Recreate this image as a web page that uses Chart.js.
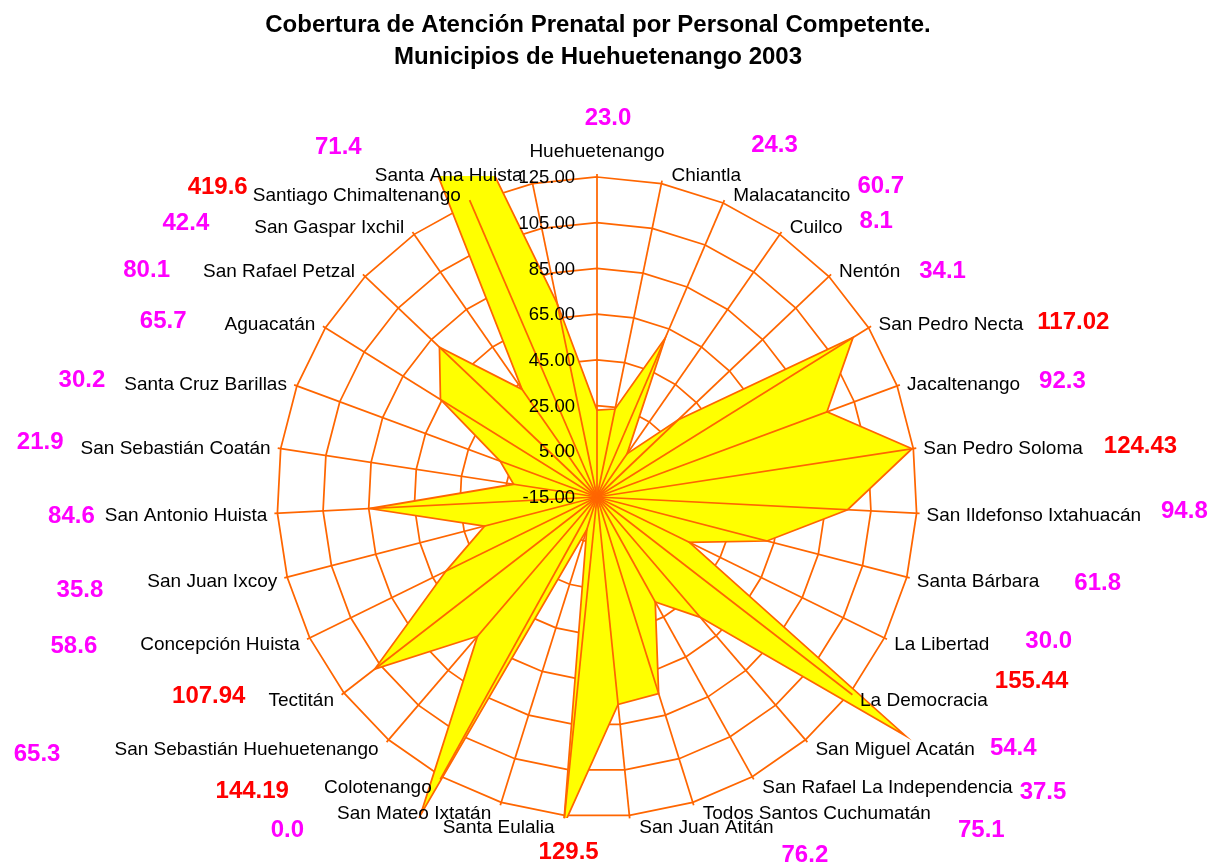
<!DOCTYPE html>
<html>
<head>
<meta charset="utf-8">
<script src="https://cdn.jsdelivr.net/npm/chart.js@4.4.1/dist/chart.umd.min.js"></script>
<style>
    html, body { margin: 0; padding: 0; background: #ffffff; }
    #contenedor { width: 1215px; height: 867px; }
</style>
</head>
<body>
<div id="contenedor"><canvas id="graficoRadar"></canvas></div>
<script>
// Datos: cobertura de atención prenatal por municipio (2003)
const municipios = [
    'Huehuetenango', 'Chiantla', 'Malacatancito', 'Cuilco', 'Nentón',
    'San Pedro Necta', 'Jacaltenango', 'San Pedro Soloma', 'San Ildefonso Ixtahuacán',
    'Santa Bárbara', 'La Libertad', 'La Democracia', 'San Miguel Acatán',
    'San Rafael La Independencia', 'Todos Santos Cuchumatán', 'San Juan Atitán',
    'Santa Eulalia', 'San Mateo Ixtatán', 'Colotenango', 'San Sebastián Huehuetenango',
    'Tectitán', 'Concepción Huista', 'San Juan Ixcoy', 'San Antonio Huista',
    'San Sebastián Coatán', 'Santa Cruz Barillas', 'Aguacatán', 'San Rafael Petzal',
    'San Gaspar Ixchil', 'Santiago Chimaltenango', 'Santa Ana Huista'
];
const cobertura = [
    23.0, 24.3, 60.7, 8.1, 34.1,
    117.02, 92.3, 124.43, 94.8,
    61.8, 30.0, 155.44, 54.4,
    37.5, 75.1, 76.2,
    129.5, 0.0, 144.19, 65.3,
    107.94, 58.6, 35.8, 84.6,
    21.9, 30.2, 65.7, 80.1,
    42.4, 419.6, 71.4
];
// decimales con que se muestra cada valor
const decimales = [
    1, 1, 1, 1, 1,
    2, 1, 2, 1,
    1, 1, 2, 1,
    1, 1, 1,
    1, 1, 2, 1,
    2, 1, 1, 1,
    1, 1, 1, 1,
    1, 1, 1
];
const escalaMin = -15;
const escalaMax = 125;
const escalaPaso = 20;

// Geometría y estilo
const CENTRO_X = 597;
const CENTRO_Y = 497;
const RADIO = 320;
const NARANJA = '#FF6600';
const FUENTE = '"Liberation Sans", Arial, sans-serif';

// desplazamiento de cada número respecto al borde exterior de su etiqueta [dx, dy]
const ajusteValor = [
    [11, -34], [10, -30], [7, -9], [17, -7], [19, 0],
    [14, -2], [19, -3], [21, -3], [20, -4],
    [35, 2], [36, -3], [7, -20], [15, -1],
    [7, 5], [27, 17], [8, 28],
    [-156, 25], [33, 17], [35, 4], [54, 5],
    [23, -5], [43, 2], [44, 9], [10, 1],
    [17, -7], [19, -4], [38, -3], [33, -1],
    [45, -5], [5, -8], [13, -28]
];

const pluginExcel = {
    id: 'estiloExcel',
    afterLayout(chart) {
        const s = chart.scales.r;
        s.xCenter = CENTRO_X;
        s.yCenter = CENTRO_Y;
        s.drawingArea = RADIO;
    },
    beforeDatasetsDraw(chart) {
        const ctx = chart.ctx;
        const s = chart.scales.r;
        const r = s.drawingArea;
        ctx.save();
        ctx.beginPath();
        ctx.rect(s.xCenter - r - 1, s.yCenter - r - 1, 2 * r + 2, 2 * r + 2);
        ctx.clip();
    },
    afterDatasetsDraw(chart) {
        const ctx = chart.ctx;
        const s = chart.scales.r;
        const r = s.drawingArea;
        ctx.restore();

        // radios (ejes de categoría) por encima del relleno
        ctx.save();
        ctx.strokeStyle = NARANJA;
        ctx.lineWidth = 1.75;
        for (let i = 0; i < municipios.length; i++) {
            const p = s.getPointPosition(i, r + 3);
            ctx.beginPath();
            ctx.moveTo(s.xCenter, s.yCenter);
            ctx.lineTo(p.x, p.y);
            ctx.stroke();
        }
        ctx.restore();

        // etiquetas del eje de valores
        ctx.save();
        ctx.font = '18.5px ' + FUENTE;
        ctx.fillStyle = '#000000';
        ctx.textAlign = 'right';
        ctx.textBaseline = 'middle';
        for (let v = escalaMin; v <= escalaMax; v += escalaPaso) {
            const y = s.yCenter - s.getDistanceFromCenterForValue(v);
            ctx.fillText(v.toFixed(2), s.xCenter - 22, y + 1);
        }
        ctx.restore();

        // nombres de municipios y valores
        ctx.save();
        ctx.textBaseline = 'middle';
        for (let i = 0; i < municipios.length; i++) {
            const p = s.getPointPosition(i, r);
            const ang = p.angle + Math.PI / 2;
            const sx = Math.sin(ang);
            const cy = Math.cos(ang);
            ctx.font = '19px ' + FUENTE;
            const ancho = ctx.measureText(municipios[i]).width;
            let x, y, alin;
            if (Math.abs(sx) < 0.05) {
                alin = 'center';
                x = p.x;
                y = p.y - 25 * cy;
            } else {
                alin = sx > 0 ? 'left' : 'right';
                x = p.x + (sx > 0 ? 10 : -10);
                y = p.y - 10 * cy + 2;
            }
            ctx.textAlign = alin;
            ctx.fillStyle = '#000000';
            ctx.fillText(municipios[i], x, y);

            const [dx, dy] = ajusteValor[i];
            const texto = cobertura[i].toFixed(decimales[i]);
            ctx.font = 'bold 24px ' + FUENTE;
            ctx.fillStyle = cobertura[i] > 100 ? '#FF0000' : '#FF00FF';
            if (alin === 'center') {
                ctx.textAlign = 'center';
                ctx.fillText(texto, x + dx, y + dy);
            } else if (alin === 'left') {
                ctx.textAlign = 'left';
                ctx.fillText(texto, x + ancho + dx, y + dy);
            } else {
                ctx.textAlign = 'right';
                ctx.fillText(texto, x - ancho - dx, y + dy);
            }
        }
        ctx.restore();
    }
};

const ctx = document.getElementById('graficoRadar').getContext('2d');
const grafico = new Chart(ctx, {
    type: 'radar',
    data: {
        labels: municipios,
        datasets: [{
            label: 'Cobertura',
            data: cobertura,
            backgroundColor: '#FFFF00',
            borderColor: NARANJA,
            borderWidth: 1.75,
            pointRadius: 0,
            pointHoverRadius: 0,
            fill: 'start',
            tension: 0
        }]
    },
    options: {
        responsive: true,
        maintainAspectRatio: false,
        animation: false,
        layout: { padding: { left: 0, right: 19, top: 0, bottom: 0 } },
        plugins: {
            legend: { display: false },
            tooltip: { enabled: false },
            title: {
                display: true,
                text: ['Cobertura de Atención Prenatal por Personal Competente.',
                       'Municipios de Huehuetenango 2003'],
                color: '#000000',
                font: { family: FUENTE, size: 24, weight: 'bold', lineHeight: 1.333 },
                padding: { top: 9, bottom: 10 }
            }
        },
        scales: {
            r: {
                min: escalaMin,
                max: escalaMax,
                ticks: { stepSize: escalaPaso, display: false },
                grid: { color: NARANJA, lineWidth: 1.75, circular: false },
                angleLines: { display: false },
                pointLabels: { display: false }
            }
        }
    },
    plugins: [pluginExcel]
});
</script>
</body>
</html>
